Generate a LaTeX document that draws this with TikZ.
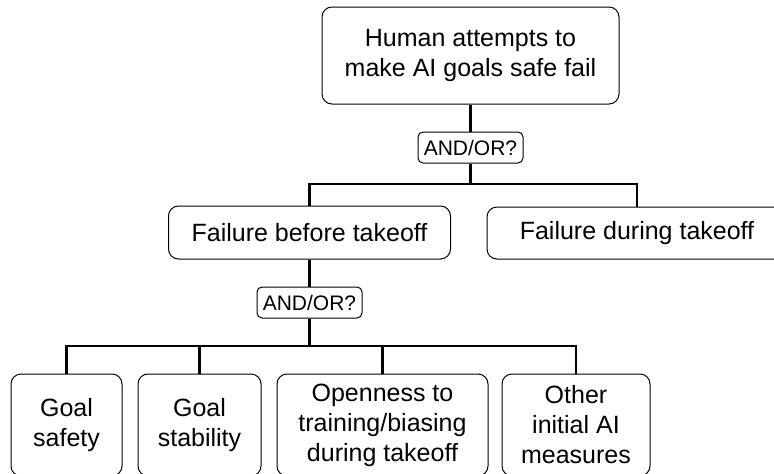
\documentclass[tikz,border=0pt]{standalone}
\usepackage{fontspec}
\setmainfont{Liberation Sans}
\tikzset{
  goalbox/.style={draw,line width=1pt,rounded corners=10pt,align=center,inner sep=0pt,
    font=\fontsize{25}{30}\selectfont},
  andor/.style={draw,line width=1pt,rounded corners=5pt,inner sep=0pt,minimum width=105,
    minimum height=31,font=\fontsize{21}{24}\selectfont},
  wire/.style={line width=2.6pt}
}
\begin{document}
\begin{tikzpicture}[x=1pt,y=-1pt]
  \clip (0,0) rectangle (774,474);
  \useasboundingbox (0,0) rectangle (774,474);
  \node[goalbox,minimum width=297,minimum height=97] (top) at (470.5,55.5) {Human attempts to\\make AI goals safe fail};
  \node[andor] (ao1) at (470.5,147.5) {AND/OR?};
  \node[goalbox,minimum width=282,minimum height=53] (fb) at (309.5,232.5) {Failure before takeoff};
  \node[goalbox,minimum width=300,minimum height=52] (fd) at (637,233) {Failure during takeoff};
  \node[andor] (ao2) at (309.5,302.5) {AND/OR?};
  \node[goalbox,minimum width=111,minimum height=102] (gsafe) at (66.5,425) {Goal\\safety};
  \node[goalbox,minimum width=123,minimum height=102] (gstab) at (199.5,425) {Goal\\stability};
  \node[goalbox,minimum width=211,minimum height=102] (open) at (382.5,425) {Openness to\\training/biasing\\during takeoff};
  \node[goalbox,minimum width=148,minimum height=102] (other) at (576,425) {Other\\initial AI\\measures};
  \coordinate (j1) at (470.5,184);
  \coordinate (j2) at (309.5,346);
  \draw[wire] (top.south) -- (ao1.north);
  \draw[wire] (ao1.south) -- (j1);
  \draw[wire] (fb.north) |- (j1) -| (fd.north);
  \draw[wire] (fb.south) -- (ao2.north);
  \draw[wire] (ao2.south) -- (j2);
  \draw[wire] (gsafe.north) |- (j2) -| (other.north);
  \draw[wire] (gstab.north) -- (gstab.north |- j2);
  \draw[wire] (open.north) -- (open.north |- j2);
\end{tikzpicture}
\end{document}
